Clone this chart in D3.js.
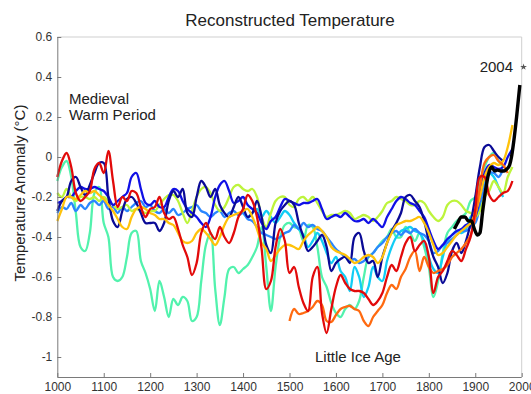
<!DOCTYPE html>
<html>
<head>
<meta charset="utf-8">
<script src="https://cdn.jsdelivr.net/npm/d3@7"></script>
<style>
  body { margin: 0; background: #fff; }
  svg { display: block; font-family: "Liberation Sans", Arial, sans-serif; }
</style>
</head>
<body>
<svg id="chart" width="531" height="394"></svg>
<script>
// reconstructions, one value per decade starting at the given year
const navyStart = 1000;
const navyValues = [-0.27,-0.22,-0.2,-0.12,-0.1,-0.15,-0.19,-0.14,-0.08,-0.03,
  -0.03,-0.2,-0.32,-0.35,-0.27,-0.21,-0.2,-0.23,-0.28,-0.33,
  -0.33,-0.33,-0.37,-0.33,-0.22,-0.17,-0.2,-0.16,-0.28,-0.3,
  -0.2,-0.12,-0.15,-0.2,-0.16,-0.24,-0.28,-0.3,-0.25,-0.2,
  -0.25,-0.3,-0.28,-0.22,-0.3,-0.44,-0.48,-0.33,-0.27,-0.24,
  -0.22,-0.24,-0.33,-0.4,-0.47,-0.45,-0.42,-0.39,-0.45,-0.57,
  -0.53,-0.51,-0.5,-0.53,-0.4,-0.38,-0.47,-0.53,-0.52,-0.6,
  -0.5,-0.43,-0.37,-0.33,-0.28,-0.2,-0.19,-0.22,-0.25,-0.32,
  -0.42,-0.5,-0.55,-0.63,-0.58,-0.47,-0.43,-0.48,-0.42,-0.33,
  -0.2,-0.05,0.05,0.06,0.03,0.0,-0.02];

const blueStart = 1000;
const blueValues = [-0.23,-0.22,-0.2,-0.2,-0.17,-0.15,-0.16,-0.16,-0.15,-0.16,
  -0.17,-0.2,-0.24,-0.22,-0.2,-0.18,-0.1,-0.08,-0.16,-0.23,
  -0.24,-0.22,-0.25,-0.25,-0.2,-0.16,-0.17,-0.22,-0.26,-0.28,
  -0.3,-0.33,-0.35,-0.3,-0.2,-0.14,-0.12,-0.17,-0.23,-0.22,
  -0.2,-0.24,-0.26,-0.28,-0.33,-0.36,-0.32,-0.3,-0.25,-0.21,
  -0.22,-0.23,-0.24,-0.23,-0.23,-0.22,-0.21,-0.26,-0.31,-0.3,
  -0.29,-0.3,-0.28,-0.3,-0.32,-0.32,-0.31,-0.33,-0.31,-0.33,
  -0.35,-0.3,-0.26,-0.22,-0.2,-0.21,-0.23,-0.24,-0.27,-0.3,
  -0.36,-0.42,-0.46,-0.44,-0.41,-0.39,-0.37,-0.36,-0.34,-0.33,
  -0.3,-0.2,-0.08,-0.04,-0.05,-0.06,-0.05,0.0,0.04];

const skyStart = 1000;
const skyValues = [-0.28,-0.25,-0.26,-0.23,-0.27,-0.24,-0.26,-0.23,-0.22,-0.24,
  -0.22,-0.26,-0.25,-0.28,-0.25,-0.27,-0.25,-0.23,-0.22,-0.25,
  -0.24,-0.27,-0.28,-0.26,-0.28,-0.26,-0.29,-0.28,-0.26,-0.25,
  -0.24,-0.27,-0.28,-0.3,-0.28,-0.27,-0.3,-0.28,-0.27,-0.29,
  -0.28,-0.31,-0.32,-0.35,-0.38,-0.39,-0.4,-0.41,-0.4,-0.38,
  -0.37,-0.34,-0.36,-0.33,-0.35,-0.34,-0.36,-0.37,-0.4,-0.43,
  -0.46,-0.48,-0.5,-0.52,-0.51,-0.53,-0.52,-0.5,-0.48,-0.45,
  -0.43,-0.4,-0.38,-0.37,-0.39,-0.37,-0.38,-0.36,-0.38,-0.39,
  -0.42,-0.48,-0.47,-0.44,-0.43,-0.41,-0.39,-0.37,-0.37,-0.35,
  -0.33,-0.25,-0.15,-0.08,-0.08,-0.1,-0.06];

const cyanStart = 1400;
const cyanValues = [-0.28,-0.3,-0.28,-0.26,-0.3,-0.27,-0.3,-0.33,-0.3,-0.27,
  -0.29,-0.33,-0.36,-0.39,-0.45,-0.42,-0.38,-0.42,-0.48,-0.53,
  -0.5,-0.57,-0.6,-0.67,-0.55,-0.6,-0.7,-0.65,-0.55,-0.6,
  -0.62,-0.52,-0.45,-0.4,-0.37,-0.36,-0.35,-0.37,-0.38,-0.42,
  -0.5,-0.56,-0.58,-0.5,-0.42,-0.39,-0.37,-0.38,-0.36,-0.3,
  -0.28,-0.2,-0.12,-0.08,-0.1,-0.15,-0.2];

const aquaStart = 1000;
const aquaValues = [-0.12,-0.05,-0.02,-0.1,-0.28,-0.45,-0.47,-0.38,-0.18,-0.15,
  -0.33,-0.4,-0.6,-0.62,-0.6,-0.5,-0.38,-0.37,-0.52,-0.58,
  -0.66,-0.77,-0.62,-0.7,-0.8,-0.71,-0.74,-0.7,-0.72,-0.82,
  -0.8,-0.62,-0.44,-0.38,-0.66,-0.84,-0.7,-0.56,-0.55,-0.58,
  -0.56,-0.54,-0.5,-0.45,-0.35,-0.55,-0.77,-0.55,-0.4,-0.34,
  -0.33,-0.35,-0.36,-0.42,-0.34,-0.35,-0.45,-0.6,-0.65,-0.73,
  -0.78,-0.8,-0.76,-0.74,-0.76,-0.72,-0.6,-0.5,-0.48,-0.45,
  -0.42,-0.4,-0.36,-0.4,-0.4,-0.35,-0.38,-0.42,-0.38,-0.45,
  -0.55,-0.7,-0.62,-0.48,-0.38,-0.35,-0.32,-0.3,-0.28,-0.22,
  -0.2,-0.12,-0.05,0.0,0.02,-0.02,-0.05];

const limeStart = 1000;
const limeValues = [-0.18,-0.2,-0.16,-0.2,-0.22,-0.2,-0.2,-0.21,-0.2,-0.22,
  -0.2,-0.22,-0.24,-0.26,-0.25,-0.24,-0.27,-0.26,-0.27,-0.28,
  -0.27,-0.27,-0.24,-0.21,-0.19,-0.19,-0.22,-0.28,-0.33,-0.27,
  -0.2,-0.16,-0.15,-0.18,-0.24,-0.27,-0.25,-0.2,-0.15,-0.14,
  -0.16,-0.17,-0.16,-0.2,-0.3,-0.35,-0.28,-0.22,-0.2,-0.2,
  -0.24,-0.25,-0.21,-0.2,-0.22,-0.2,-0.23,-0.27,-0.3,-0.29,
  -0.29,-0.28,-0.27,-0.28,-0.31,-0.3,-0.29,-0.3,-0.32,-0.3,
  -0.27,-0.23,-0.22,-0.2,-0.21,-0.22,-0.24,-0.24,-0.22,-0.23,
  -0.27,-0.3,-0.32,-0.3,-0.24,-0.22,-0.22,-0.24,-0.27,-0.28,
  -0.3,-0.27,-0.2,-0.17,-0.12,-0.15,-0.18,-0.1,-0.05];

const goldStart = 1000;
const goldValues = [-0.32,-0.26,-0.2,-0.2,-0.21,-0.19,-0.17,-0.18,-0.17,-0.19,
  -0.21,-0.24,-0.27,-0.31,-0.35,-0.36,-0.3,-0.26,-0.25,-0.26,
  -0.28,-0.29,-0.31,-0.31,-0.33,-0.34,-0.38,-0.42,-0.43,-0.42,
  -0.38,-0.36,-0.38,-0.41,-0.44,-0.4,-0.34,-0.3,-0.29,-0.28,
  -0.27,-0.26,-0.3,-0.36,-0.43,-0.46,-0.52,-0.49,-0.46,-0.44,
  -0.44,-0.45,-0.46,-0.42,-0.39,-0.37,-0.35,-0.37,-0.4,-0.45,
  -0.47,-0.48,-0.49,-0.51,-0.53,-0.52,-0.5,-0.49,-0.5,-0.53,
  -0.5,-0.43,-0.38,-0.34,-0.33,-0.32,-0.32,-0.31,-0.3,-0.33,
  -0.38,-0.44,-0.49,-0.48,-0.45,-0.42,-0.39,-0.37,-0.35,-0.33,
  -0.28,-0.2,-0.1,-0.05,-0.03,-0.04,-0.02,0.05,0.16];

const orangeStart = 1500;
const orangeValues = [-0.82,-0.76,-0.785,-0.78,-0.77,-0.75,-0.72,-0.74,-0.82,-0.825,
  -0.79,-0.76,-0.75,-0.745,-0.76,-0.77,-0.82,-0.845,-0.8,-0.77,
  -0.74,-0.68,-0.64,-0.66,-0.6,-0.56,-0.5,-0.47,-0.57,-0.5,
  -0.55,-0.58,-0.57,-0.56,-0.54,-0.5,-0.48,-0.46,-0.43,-0.39,
  -0.3,-0.15,-0.03,0.0,0.01,-0.02,-0.04,-0.08];

const redStart = 1000;
const redValues = [-0.1,-0.02,0.02,-0.05,-0.18,-0.22,-0.2,-0.17,-0.06,-0.03,
  -0.08,0.03,-0.12,-0.25,-0.2,-0.22,-0.17,-0.18,-0.25,-0.3,
  -0.26,-0.25,-0.2,-0.28,-0.31,-0.3,-0.36,-0.44,-0.5,-0.59,
  -0.53,-0.38,-0.33,-0.38,-0.41,-0.35,-0.4,-0.43,-0.38,-0.3,
  -0.26,-0.19,-0.22,-0.3,-0.46,-0.66,-0.62,-0.45,-0.36,-0.42,
  -0.58,-0.55,-0.65,-0.73,-0.77,-0.6,-0.55,-0.78,-0.88,-0.76,
  -0.65,-0.59,-0.63,-0.66,-0.67,-0.67,-0.68,-0.71,-0.74,-0.72,
  -0.68,-0.6,-0.54,-0.57,-0.5,-0.43,-0.4,-0.47,-0.44,-0.42,
  -0.5,-0.68,-0.6,-0.57,-0.52,-0.47,-0.49,-0.52,-0.46,-0.4,
  -0.26,-0.1,-0.1,-0.19,-0.22,-0.2,-0.18,-0.17,-0.12];

// instrumental record
const instYears = [1855,1862,1870,1878,1885,1892,1898,1905,1910,1916,1922,1928,1935,1942,1948,1955,1962,1968,1974,1978,1983,1989,1996];
const instValues = [-0.36,-0.33,-0.3,-0.3,-0.32,-0.32,-0.36,-0.39,-0.38,-0.27,-0.17,-0.09,-0.05,-0.07,-0.065,-0.07,-0.07,-0.06,-0.04,0.0,0.08,0.2,0.36];
const markYear = 2004;
const markValue = 0.45;

const xTicks = [1000,1100,1200,1300,1400,1500,1600,1700,1800,1900,2000];
const yTicks = [0.6,0.4,0.2,0,-0.2,-0.4,-0.6,-0.8,-1];

const series = [
  {start: aquaStart, values: aquaValues, color: '#52f2ad'},
  {start: cyanStart, values: cyanValues, color: '#12cdf5'},
  {start: skyStart, values: skyValues, color: '#2a86ff'},
  {start: limeStart, values: limeValues, color: '#bdf43c'},
  {start: blueStart, values: blueValues, color: '#1010e6'},
  {start: navyStart, values: navyValues, color: '#0a0a96'},
  {start: goldStart, values: goldValues, color: '#ffc20a'},
  {start: orangeStart, values: orangeValues, color: '#ff6a10'},
  {start: redStart, values: redValues, color: '#e20a0a'}
];

const svg = d3.select('#chart');
const plotLeft = 57.3, plotRight = 521.7, plotTop = 37, plotBottom = 377;

const x = d3.scaleLinear().domain([1000, 2000]).range([plotLeft, plotRight]);
const y = d3.scaleLinear().domain([-1.1, 0.6]).range([plotBottom, plotTop]);

// frame
svg.append('line').attr('x1', plotLeft).attr('x2', plotRight).attr('y1', plotTop).attr('y2', plotTop)
  .style('stroke', '#cfcfcf');
svg.append('line').attr('x1', plotRight).attr('x2', plotRight).attr('y1', plotTop).attr('y2', plotBottom)
  .style('stroke', '#cfcfcf');

const plot = svg.append('g');
const line = d3.line()
  .x(d => x(d[0]))
  .y(d => y(d[1]))
  .curve(d3.curveCatmullRom.alpha(0.5));

series.forEach(function (s) {
  const pts = s.values.map((v, i) => [s.start + i * 10, v]);
  plot.append('path')
    .attr('d', line(pts))
    .style('fill', 'none')
    .style('stroke', s.color)
    .style('stroke-width', 2.3)
    .style('stroke-linejoin', 'round');
});

plot.append('path')
  .attr('d', d3.line().x(d => x(d[0])).y(d => y(d[1])).curve(d3.curveMonotoneX)(instYears.map((yr, i) => [yr, instValues[i]])))
  .style('fill', 'none')
  .style('stroke', '#000')
  .style('stroke-width', 3.4)
  .style('stroke-linejoin', 'round');

plot.append('path')
  .attr('d', d3.symbol(d3.symbolStar, 14)())
  .attr('transform', `translate(${x(markYear)},${y(markValue)})`)
  .style('fill', '#555');

// axes
const xAxis = svg.append('g')
  .attr('transform', `translate(0,${plotBottom})`)
  .call(d3.axisBottom(x).tickValues(xTicks).tickFormat(d3.format('d')).tickSizeInner(-4).tickSizeOuter(0).tickPadding(5));
const yAxis = svg.append('g')
  .attr('transform', `translate(${plotLeft},0)`)
  .call(d3.axisLeft(y).tickValues(yTicks).tickFormat(d => String(d)).tickSizeInner(-4).tickSizeOuter(0).tickPadding(5));

[xAxis, yAxis].forEach(function (a) {
  a.select('.domain').style('stroke', '#7a7a7a');
  a.selectAll('.tick line').style('stroke', '#7a7a7a');
  a.selectAll('.tick text')
    .style('font-family', '"Liberation Sans", Arial, sans-serif')
    .style('font-size', '12px')
    .style('fill', '#333');
});
yAxis.select('.domain').attr('d', `M0.5,${plotTop}V${plotBottom}`);
xAxis.select('.domain').attr('d', `M${plotLeft},0.5H${plotRight}`);

// texts
svg.append('text')
  .attr('x', 290).attr('y', 26)
  .attr('text-anchor', 'middle')
  .style('font-size', '17px')
  .style('fill', '#222')
  .text('Reconstructed Temperature');

svg.append('text')
  .attr('transform', 'translate(25,193) rotate(-90)')
  .attr('text-anchor', 'middle')
  .style('font-size', '15px')
  .style('fill', '#222')
  .text('Temperature Anomaly (°C)');

svg.append('text')
  .attr('x', 69).attr('y', 104)
  .style('font-size', '15px').style('fill', '#222')
  .text('Medieval');
svg.append('text')
  .attr('x', 69).attr('y', 120)
  .style('font-size', '15px').style('fill', '#222')
  .text('Warm Period');

svg.append('text')
  .attr('x', 315).attr('y', 362)
  .style('font-size', '15px').style('fill', '#222')
  .text('Little Ice Age');

svg.append('text')
  .attr('x', 513).attr('y', 72)
  .attr('text-anchor', 'end')
  .style('font-size', '15px').style('fill', '#222')
  .text('2004');
</script>
</body>
</html>
